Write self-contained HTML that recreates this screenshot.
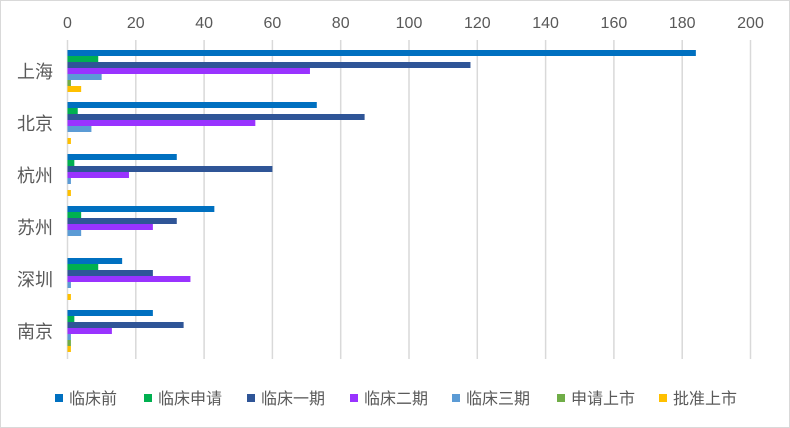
<!DOCTYPE html>
<html><head><meta charset="utf-8"><style>
body{margin:0;background:#fff;}
#wrap{position:relative;width:790px;height:428px;overflow:hidden;font-family:"Liberation Sans","Noto Sans CJK SC",sans-serif;}
</style></head><body>
<div id="wrap">
<svg id="chart" width="790" height="428"></svg>
</div>
<script>
const categories=["上海","北京","杭州","苏州","深圳","南京"];
const seriesNames=["临床前","临床申请","临床一期","临床二期","临床三期","申请上市","批准上市"];
const s0=[184,73,32,43,16,25];
const s1=[9,3,2,4,9,2];
const s2=[118,87,60,32,25,34];
const s3=[71,55,18,25,36,13];
const s4=[10,7,1,4,1,1];
const s5=[1,0,0,0,0,1];
const s6=[4,1,1,0,1,1];
const ticks=[0,20,40,60,80,100,120,140,160,180,200];
const colors=["#0070C0","#00B050","#2F5597","#9933FF","#5B9BD5","#70AD47","#FFC000"];
const series=[s0,s1,s2,s3,s4,s5,s6];
const NS="http://www.w3.org/2000/svg";
const svg=document.getElementById('chart');
const x0=67.5,pxPer=3.415,plotTop=45,band=52,barH=6,gridBottom=359;
const xs=v=>x0+v*pxPer;
const ys=(ci,si)=>plotTop+ci*band+5+si*barH;
function mk(t,a){const e=document.createElementNS(NS,t);for(const k in a)e.setAttribute(k,a[k]);svg.appendChild(e);return e;}
let b=mk('rect',{x:0.5,y:0.5,width:789,height:427,fill:'#fff',stroke:'#D9D9D9'});


ticks.forEach(t=>{
 const l=mk('line',{x1:xs(t),x2:xs(t),y1:40,y2:gridBottom,stroke:'#D9D9D9','stroke-width':1.5});
 
 
 const tx=mk('text',{x:xs(t),y:28,'text-anchor':'middle','font-size':16,fill:'#595959'});
 tx.textContent=t;
 
 
});
categories.forEach((c,ci)=>{
 const tx=mk('text',{x:35,y:plotTop+ci*band+band/2+7,'text-anchor':'middle','font-size':18,fill:'#595959'});
 tx.textContent=c;
 
 
 series.forEach((s,si)=>{
  const v=s[ci];
  if(v<=0)return;
  const r=mk('rect',{x:xs(0),y:ys(ci,si),width:xs(v)-xs(0),height:barH,fill:colors[si]});
  
  
 });
});
const legX=[55,144,247,350,452,557,659];
seriesNames.forEach((n,i)=>{
 const r=mk('rect',{x:legX[i],y:394,width:8,height:8,fill:colors[i]});
 
 
 const t=mk('text',{x:legX[i]+14,y:404,'font-size':16,fill:'#595959'});
 t.textContent=n;
 
 
});
</script>
</body></html>
